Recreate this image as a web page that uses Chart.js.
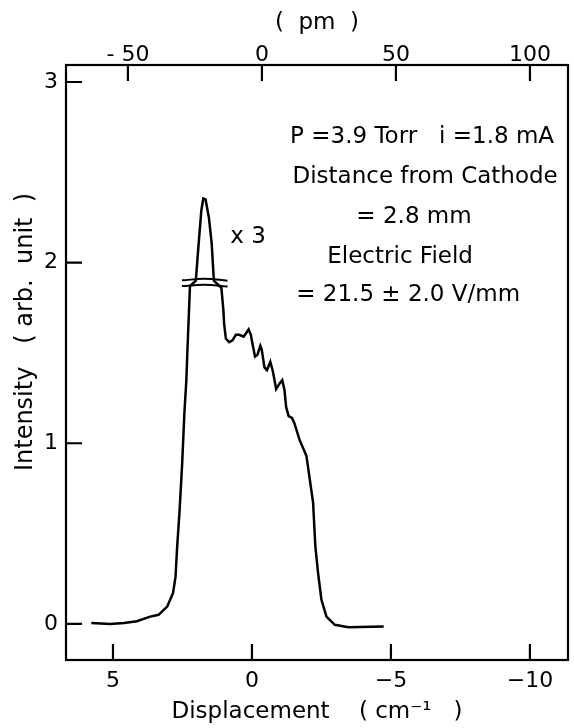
<!DOCTYPE html>
<html>
<head>
<meta charset="utf-8">
<script src="https://cdn.jsdelivr.net/npm/chart.js@4.4.0/dist/chart.umd.min.js"></script>
<style>
  html, body { margin: 0; padding: 0; background: #fff; }
</style>
</head>
<body>
<canvas id="profile" width="574" height="728"></canvas>
<script>
// trace: displacement (cm^-1) vs intensity (arb. unit)
const displacement = [5.78, 5.1, 4.6, 4.14, 3.66, 3.36, 3.05, 2.84, 2.75, 2.69, 2.61, 2.51, 2.43, 2.36, 2.32, 2.23,
  2.02, 1.9, 1.82, 1.75, 1.67, 1.55, 1.45, 1.37,
  1.1, 1.03, 1.0, 0.94, 0.82, 0.7, 0.58, 0.46, 0.3, 0.12, 0.04, -0.02, -0.11, -0.2, -0.3, -0.35, -0.45, -0.54,
  -0.66, -0.75, -0.87, -0.99, -1.09, -1.17, -1.23, -1.32, -1.44, -1.53, -1.71, -1.96, -2.08, -2.2, -2.28, -2.38,
  -2.5, -2.68, -2.98, -3.47, -4.74];
const intensity = [0.005, 0.0, 0.005, 0.015, 0.04, 0.05, 0.096, 0.17, 0.26, 0.43, 0.61, 0.89, 1.17, 1.35, 1.52, 1.87,
  1.9, 2.14, 2.29, 2.355, 2.35, 2.25, 2.11, 1.9,
  1.86, 1.74, 1.66, 1.58, 1.56, 1.57, 1.6, 1.6, 1.59, 1.63, 1.6, 1.55, 1.48, 1.49, 1.54, 1.52, 1.42, 1.405,
  1.45, 1.4, 1.3, 1.33, 1.35, 1.295, 1.2, 1.15, 1.14, 1.11, 1.02, 0.93, 0.8, 0.67, 0.43, 0.28,
  0.133, 0.04, -0.005, -0.018, -0.015];

// break mark under the x3 peak
const breakX = [2.52, 1.7, 0.88];
const breakUpper = [1.902, 1.91, 1.9];
const breakLower = [1.87, 1.878, 1.868];

const xTicks = [5, 0, -5, -10];
const pmTicks = [-50, 0, 50, 100];
const yTicks = [0, 1, 2, 3];

const notes = [
  { text: "P =3.9 Torr   i =1.8 mA", x: -6.12, y: 2.695 },
  { text: "Distance from Cathode", x: -6.23, y: 2.474 },
  { text: "= 2.8 mm", x: -5.83, y: 2.252 },
  { text: "Electric Field", x: -5.33, y: 2.031 },
  { text: "= 21.5 ± 2.0 V/mm", x: -5.62, y: 1.821 },
  { text: "x 3", x: 0.14, y: 2.142 }
];

const FONT = '"DejaVu Sans", sans-serif';
const pts = (xs, ys) => xs.map((x, i) => ({ x: x, y: ys[i] }));

const frameAndTicks = {
  id: "frameAndTicks",
  afterDraw(chart) {
    const { ctx, chartArea: a, scales } = chart;
    ctx.save();
    ctx.strokeStyle = "#000";
    ctx.lineWidth = 2.2;
    ctx.strokeRect(a.left, a.top, a.right - a.left, a.bottom - a.top);
    ctx.beginPath();
    scales.x.ticks.forEach(t => {
      const px = scales.x.getPixelForValue(t.value);
      ctx.moveTo(px, a.bottom); ctx.lineTo(px, a.bottom - 16);
    });
    scales.x2.ticks.forEach(t => {
      const px = scales.x2.getPixelForValue(t.value);
      ctx.moveTo(px, a.top); ctx.lineTo(px, a.top + 16);
    });
    scales.y.ticks.forEach(t => {
      const py = scales.y.getPixelForValue(t.value);
      ctx.moveTo(a.left, py); ctx.lineTo(a.left + 16, py);
    });
    ctx.stroke();

    ctx.fillStyle = "#000";
    ctx.font = "23px " + FONT;
    ctx.textAlign = "center";
    ctx.textBaseline = "middle";
    notes.forEach(n => {
      ctx.fillText(n.text, scales.x.getPixelForValue(n.x), scales.y.getPixelForValue(n.y));
    });
    ctx.restore();
  }
};

const canvas = document.getElementById("profile");

new Chart(canvas, {
  type: "line",
  data: {
    datasets: [
      {
        data: pts(displacement, intensity),
        borderColor: "#000",
        borderWidth: 2.5,
        pointRadius: 0,
        tension: 0
      },
      {
        data: pts(breakX, breakUpper),
        borderColor: "#000",
        borderWidth: 2,
        pointRadius: 0,
        tension: 0.4
      },
      {
        data: pts(breakX, breakLower),
        borderColor: "#000",
        borderWidth: 2,
        pointRadius: 0,
        tension: 0.4
      }
    ]
  },
  options: {
    responsive: false,
    animation: false,
    layout: { padding: { right: 6 } },
    plugins: {
      legend: { display: false },
      tooltip: { enabled: false }
    },
    scales: {
      x: {
        type: "linear",
        position: "bottom",
        reverse: true,
        min: -11.37,
        max: 6.69,
        grid: { display: false, drawTicks: false },
        border: { display: false },
        afterBuildTicks: s => { s.ticks = xTicks.map(v => ({ value: v })); },
        afterFit: s => { s.height = 68; },
        ticks: {
          color: "#000",
          font: { family: FONT, size: 22 },
          padding: 8,
          maxRotation: 0,
          callback: v => (v < 0 ? "\u2212" + Math.abs(v) : String(v))
        },
        title: {
          display: true,
          text: "Displacement    ( cm\u207B\u00B9   )",
          color: "#000",
          font: { family: FONT, size: 23 },
          padding: { top: 0, bottom: 2 }
        }
      },
      x2: {
        type: "linear",
        position: "top",
        min: -73.1,
        max: 114.2,
        grid: { display: false, drawTicks: false },
        border: { display: false },
        afterBuildTicks: s => { s.ticks = pmTicks.map(v => ({ value: v })); },
        afterFit: s => { s.height = 65; },
        ticks: {
          color: "#000",
          font: { family: FONT, size: 22 },
          padding: -3,
          maxRotation: 0,
          callback: v => (v < 0 ? "- " + Math.abs(v) : String(v))
        },
        title: {
          display: true,
          text: "(  pm  )",
          color: "#000",
          font: { family: FONT, size: 23 },
          padding: { top: 9, bottom: 0 }
        }
      },
      y: {
        type: "linear",
        position: "left",
        min: -0.2,
        max: 3.094,
        grid: { display: false, drawTicks: false },
        border: { display: false },
        afterBuildTicks: s => { s.ticks = yTicks.map(v => ({ value: v })); },
        afterFit: s => { s.width = 66; },
        ticks: {
          color: "#000",
          font: { family: FONT, size: 22 },
          padding: 8
        },
        title: {
          display: true,
          text: "        Intensity   ( arb.  unit  )",
          color: "#000",
          font: { family: FONT, size: 24 },
          padding: { top: 11, bottom: 0 }
        }
      }
    }
  },
  plugins: [frameAndTicks]
});
</script>
</body>
</html>
